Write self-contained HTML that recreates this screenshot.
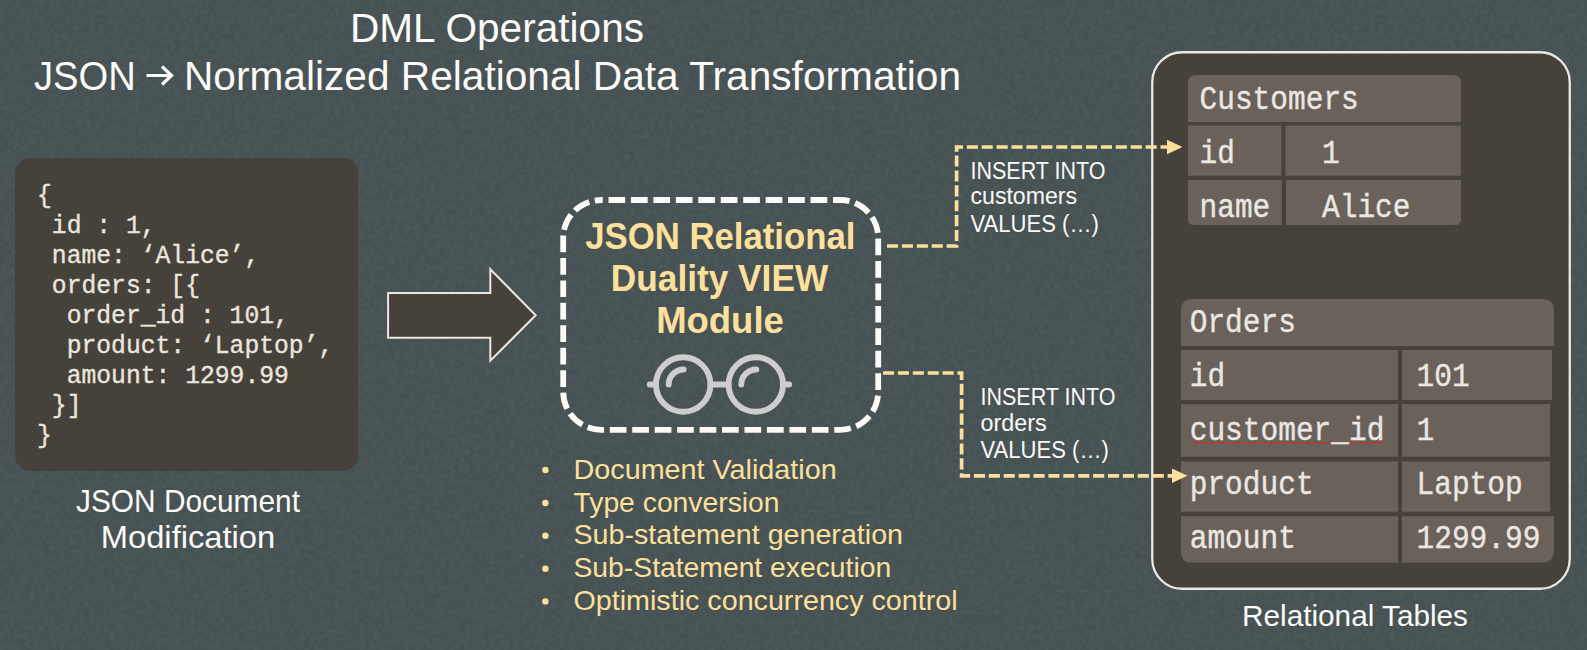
<!DOCTYPE html>
<html><head><meta charset="utf-8">
<style>
html,body{margin:0;padding:0;background:#465154;}
body{width:1587px;height:650px;overflow:hidden;}
svg{display:block;}
.s{font-family:"Liberation Sans",sans-serif;}
.m{font-family:"Liberation Mono",monospace;white-space:pre;}
</style></head><body>
<svg width="1587" height="650" viewBox="0 0 1587 650">
<defs>
<filter id="nz" x="0" y="0" width="100%" height="100%" color-interpolation-filters="sRGB">
<feTurbulence type="fractalNoise" baseFrequency="0.2" numOctaves="3" seed="7" result="t"/>
<feColorMatrix in="t" type="matrix" values="0 0 0 0 0.329  0 0 0 0 0.373  0 0 0 0 0.384  1.1 0 0 0 -0.4"/>
</filter>
</defs>
<rect x="0" y="0" width="1587" height="650" fill="#465154"/>
<rect x="0" y="0" width="1587" height="650" filter="url(#nz)"/>
<!-- Title -->
<text class="s" x="350" y="42" font-size="41" fill="#fbfaf6" textLength="294" lengthAdjust="spacingAndGlyphs">DML Operations</text>
<text class="s" x="34" y="90" font-size="41" fill="#fbfaf6" textLength="101.8" lengthAdjust="spacingAndGlyphs">JSON</text>
<text class="s" x="184" y="90" font-size="41" fill="#fbfaf6" textLength="777" lengthAdjust="spacingAndGlyphs">Normalized Relational Data Transformation</text>
<path d="M146.5,75.5 H171 M162,66.5 L171.5,75.5 L162,84.5" fill="none" stroke="#fbfaf6" stroke-width="3.2"/>
<rect x="15" y="158" width="343" height="313" rx="15" fill="#47413b"/>
<text class="m" transform="translate(37,202.6) scale(1,1.04)" x="0" y="0" font-size="24.7" fill="#ebe6dd" stroke="#ebe6dd" stroke-width="0.35">{</text>
<text class="m" transform="translate(37,232.6) scale(1,1.04)" x="0" y="0" font-size="24.7" fill="#ebe6dd" stroke="#ebe6dd" stroke-width="0.35"> id : 1,</text>
<text class="m" transform="translate(37,262.6) scale(1,1.04)" x="0" y="0" font-size="24.7" fill="#ebe6dd" stroke="#ebe6dd" stroke-width="0.35"> name: ‘Alice’,</text>
<text class="m" transform="translate(37,292.6) scale(1,1.04)" x="0" y="0" font-size="24.7" fill="#ebe6dd" stroke="#ebe6dd" stroke-width="0.35"> orders: [{</text>
<text class="m" transform="translate(37,322.6) scale(1,1.04)" x="0" y="0" font-size="24.7" fill="#ebe6dd" stroke="#ebe6dd" stroke-width="0.35">  order_id : 101,</text>
<text class="m" transform="translate(37,352.6) scale(1,1.04)" x="0" y="0" font-size="24.7" fill="#ebe6dd" stroke="#ebe6dd" stroke-width="0.35">  product: ‘Laptop’,</text>
<text class="m" transform="translate(37,382.6) scale(1,1.04)" x="0" y="0" font-size="24.7" fill="#ebe6dd" stroke="#ebe6dd" stroke-width="0.35">  amount: 1299.99</text>
<text class="m" transform="translate(37,412.6) scale(1,1.04)" x="0" y="0" font-size="24.7" fill="#ebe6dd" stroke="#ebe6dd" stroke-width="0.35"> }]</text>
<text class="m" transform="translate(37,442.6) scale(1,1.04)" x="0" y="0" font-size="24.7" fill="#ebe6dd" stroke="#ebe6dd" stroke-width="0.35">}</text>
<text class="s" x="188" y="512" font-size="30.5" fill="#fbfaf6" textLength="224" lengthAdjust="spacingAndGlyphs" text-anchor="middle">JSON Document</text>
<text class="s" x="188" y="547.5" font-size="30.5" fill="#fbfaf6" textLength="174.5" lengthAdjust="spacingAndGlyphs" text-anchor="middle">Modification</text>
<polygon points="388.1,293 490.3,293 490.3,269.3 535.7,315.3 490.3,360.7 490.3,337.8 388.1,337.8" fill="#47413b" stroke="#ebe7df" stroke-width="2"/>
<rect x="563.2" y="200" width="315" height="229.8" rx="38" fill="none" stroke="#fbfaf7" stroke-width="5.8" stroke-dasharray="16.7 5.75" stroke-dashoffset="-7.3"/>
<text class="s" x="720.3" y="248.9" font-size="36" fill="#fde09b" textLength="270.3" lengthAdjust="spacingAndGlyphs" text-anchor="middle" font-weight="bold">JSON Relational</text>
<text class="s" x="719.5" y="290.6" font-size="36" fill="#fde09b" textLength="217.3" lengthAdjust="spacingAndGlyphs" text-anchor="middle" font-weight="bold">Duality VIEW</text>
<text class="s" x="720" y="332.6" font-size="36.5" fill="#fde09b" textLength="127.7" lengthAdjust="spacingAndGlyphs" text-anchor="middle" font-weight="bold">Module</text>
<g fill="none" stroke="#cdcdcd" stroke-width="5.9" stroke-linecap="round">
<circle cx="683.2" cy="384.5" r="27.2"/>
<circle cx="755.8" cy="384.5" r="27.2"/>
<line x1="711" y1="384.5" x2="728" y2="384.5"/>
<line x1="649.8" y1="384.5" x2="656" y2="384.5"/>
<line x1="783" y1="384.5" x2="789.2" y2="384.5"/>
<path d="M668.7,384.5 A15,15 0 0 1 683.7,369.5"/>
<path d="M741.3,384.5 A15,15 0 0 1 756.3,369.5"/>
</g>
<circle cx="545.4" cy="470.0" r="3.2" fill="#fde09b"/>
<text class="s" x="573.5" y="478.6" font-size="28.5" fill="#fde09b" textLength="263.2" lengthAdjust="spacingAndGlyphs">Document Validation</text>
<circle cx="545.4" cy="503.0" r="3.2" fill="#fde09b"/>
<text class="s" x="573.5" y="511.6" font-size="28.5" fill="#fde09b" textLength="206.1" lengthAdjust="spacingAndGlyphs">Type conversion</text>
<circle cx="545.4" cy="535.6999999999999" r="3.2" fill="#fde09b"/>
<text class="s" x="573.5" y="544.3" font-size="28.5" fill="#fde09b" textLength="329.5" lengthAdjust="spacingAndGlyphs">Sub-statement generation</text>
<circle cx="545.4" cy="568.6999999999999" r="3.2" fill="#fde09b"/>
<text class="s" x="573.5" y="577.3" font-size="28.5" fill="#fde09b" textLength="317.7" lengthAdjust="spacingAndGlyphs">Sub-Statement execution</text>
<circle cx="545.4" cy="601.4" r="3.2" fill="#fde09b"/>
<text class="s" x="573.5" y="610" font-size="28.5" fill="#fde09b" textLength="384.1" lengthAdjust="spacingAndGlyphs">Optimistic concurrency control</text>
<text class="s" x="970.5" y="178.7" font-size="23" fill="#fbfaf6" textLength="135" lengthAdjust="spacingAndGlyphs">INSERT INTO</text>
<text class="s" x="970.5" y="204.4" font-size="23" fill="#fbfaf6" textLength="106.5" lengthAdjust="spacingAndGlyphs">customers</text>
<text class="s" x="970.5" y="232.1" font-size="23" fill="#fbfaf6" textLength="128.3" lengthAdjust="spacingAndGlyphs">VALUES (…)</text>
<text class="s" x="980.5" y="404.7" font-size="23" fill="#fbfaf6" textLength="135" lengthAdjust="spacingAndGlyphs">INSERT INTO</text>
<text class="s" x="980.5" y="431.2" font-size="23" fill="#fbfaf6" textLength="66.1" lengthAdjust="spacingAndGlyphs">orders</text>
<text class="s" x="980.5" y="457.8" font-size="23" fill="#fbfaf6" textLength="128.3" lengthAdjust="spacingAndGlyphs">VALUES (…)</text>
<rect x="1152.25" y="52.25" width="417.5" height="536.5" rx="30" fill="#47413b" stroke="#ebe8e2" stroke-width="2.3"/>
<g fill="#6a615b">
<path d="M1188,122 V83 Q1188,75 1196,75 H1453 Q1461,75 1461,83 V122 Z"/>
<rect x="1188" y="125.5" width="93.4" height="50.2"/>
<rect x="1285.4" y="125.5" width="175.5" height="50.2"/>
<path d="M1188,180 H1281.8 V225 H1194 Q1188,225 1188,219 Z"/>
<path d="M1286,180 H1461 V219 Q1461,225 1455,225 H1286 Z"/>
</g>
<text class="m" transform="translate(1199.5,109) scale(1,1.12)" x="0" y="0" font-size="29.5" fill="#ebe7e2" stroke="#ebe7e2" stroke-width="0.35">Customers</text>
<text class="m" transform="translate(1199.5,163) scale(1,1.12)" x="0" y="0" font-size="29.5" fill="#ebe7e2" stroke="#ebe7e2" stroke-width="0.35">id</text>
<text class="m" transform="translate(1322,163) scale(1,1.12)" x="0" y="0" font-size="29.5" fill="#ebe7e2" stroke="#ebe7e2" stroke-width="0.35">1</text>
<text class="m" transform="translate(1199.5,216.9) scale(1,1.12)" x="0" y="0" font-size="29.5" fill="#ebe7e2" stroke="#ebe7e2" stroke-width="0.35">name</text>
<text class="m" transform="translate(1322,216.9) scale(1,1.12)" x="0" y="0" font-size="29.5" fill="#ebe7e2" stroke="#ebe7e2" stroke-width="0.35">Alice</text>
<g fill="#6a615b">
<path d="M1181,346 V311 Q1181,299 1193,299 H1542 Q1554,299 1554,311 V346 Z"/>
<rect x="1181" y="350" width="217" height="50"/>
<rect x="1402" y="350" width="150" height="50"/>
<rect x="1181" y="404.2" width="217" height="52.6"/>
<rect x="1402" y="404.2" width="148" height="52.6"/>
<rect x="1181" y="461.5" width="217" height="50.2"/>
<rect x="1402" y="461.5" width="148" height="50.2"/>
<path d="M1181,516.3 H1398 V562.6 H1191 Q1181,562.6 1181,552.6 Z"/>
<path d="M1402,516.3 H1554 V550.6 Q1554,562.6 1542,562.6 H1402 Z"/>
</g>
<path d="M1190,442.2 L1191.5,443.2 L1193.0,442.2 L1194.5,443.2 L1196.0,442.2 L1197.5,443.2 L1199.0,442.2 L1200.5,443.2 L1202.0,442.2 L1203.5,443.2 L1205.0,442.2 L1206.5,443.2 L1208.0,442.2 L1209.5,443.2 L1211.0,442.2 L1212.5,443.2 L1214.0,442.2 L1215.5,443.2 L1217.0,442.2 L1218.5,443.2 L1220.0,442.2 L1221.5,443.2 L1223.0,442.2 L1224.5,443.2 L1226.0,442.2 L1227.5,443.2 L1229.0,442.2 L1230.5,443.2 L1232.0,442.2 L1233.5,443.2 L1235.0,442.2 L1236.5,443.2 L1238.0,442.2 L1239.5,443.2 L1241.0,442.2 L1242.5,443.2 L1244.0,442.2 L1245.5,443.2 L1247.0,442.2 L1248.5,443.2 L1250.0,442.2 L1251.5,443.2 L1253.0,442.2 L1254.5,443.2 L1256.0,442.2 L1257.5,443.2 L1259.0,442.2 L1260.5,443.2 L1262.0,442.2 L1263.5,443.2 L1265.0,442.2 L1266.5,443.2 L1268.0,442.2 L1269.5,443.2 L1271.0,442.2 L1272.5,443.2 L1274.0,442.2 L1275.5,443.2 L1277.0,442.2 L1278.5,443.2 L1280.0,442.2 L1281.5,443.2 L1283.0,442.2 L1284.5,443.2 L1286.0,442.2 L1287.5,443.2 L1289.0,442.2 L1290.5,443.2 L1292.0,442.2 L1293.5,443.2 L1295.0,442.2 L1296.5,443.2 L1298.0,442.2 L1299.5,443.2 L1301.0,442.2 L1302.5,443.2 L1304.0,442.2 L1305.5,443.2 L1307.0,442.2 L1308.5,443.2 L1310.0,442.2 L1311.5,443.2 L1313.0,442.2 L1314.5,443.2 L1316.0,442.2 L1317.5,443.2 L1319.0,442.2 L1320.5,443.2 L1322.0,442.2 L1323.5,443.2 L1325.0,442.2 L1326.5,443.2 L1328.0,442.2 L1329.5,443.2 L1331.0,442.2 L1332.5,443.2 L1334.0,442.2 L1335.5,443.2 L1337.0,442.2 L1338.5,443.2 L1340.0,442.2 L1341.5,443.2 L1343.0,442.2 L1344.5,443.2 L1346.0,442.2 L1347.5,443.2 L1349.0,442.2 L1350.5,443.2 L1352.0,442.2 L1353.5,443.2 L1355.0,442.2 L1356.5,443.2 L1358.0,442.2 L1359.5,443.2 L1361.0,442.2 L1362.5,443.2 L1364.0,442.2 L1365.5,443.2 L1367.0,442.2 L1368.5,443.2 L1370.0,442.2 L1371.5,443.2 L1373.0,442.2 L1374.5,443.2 L1376.0,442.2 L1377.5,443.2 L1379.0,442.2 L1380.5,443.2 L1382.0,442.2 L1383.5,443.2 L1385.0,442.2" fill="none" stroke="#e82020" stroke-width="0.8"/>
<text class="m" transform="translate(1189.7,332.4) scale(1,1.12)" x="0" y="0" font-size="29.5" fill="#ebe7e2" stroke="#ebe7e2" stroke-width="0.35">Orders</text>
<text class="m" transform="translate(1189.7,386.4) scale(1,1.12)" x="0" y="0" font-size="29.5" fill="#ebe7e2" stroke="#ebe7e2" stroke-width="0.35">id</text>
<text class="m" transform="translate(1416.5,386.4) scale(1,1.12)" x="0" y="0" font-size="29.5" fill="#ebe7e2" stroke="#ebe7e2" stroke-width="0.35">101</text>
<text class="m" transform="translate(1189.7,439.6) scale(1,1.12)" x="0" y="0" font-size="29.5" fill="#ebe7e2" stroke="#ebe7e2" stroke-width="0.35">customer_id</text>
<text class="m" transform="translate(1416.5,439.6) scale(1,1.12)" x="0" y="0" font-size="29.5" fill="#ebe7e2" stroke="#ebe7e2" stroke-width="0.35">1</text>
<text class="m" transform="translate(1189.7,493.5) scale(1,1.12)" x="0" y="0" font-size="29.5" fill="#ebe7e2" stroke="#ebe7e2" stroke-width="0.35">product</text>
<text class="m" transform="translate(1416.5,493.5) scale(1,1.12)" x="0" y="0" font-size="29.5" fill="#ebe7e2" stroke="#ebe7e2" stroke-width="0.35">Laptop</text>
<text class="m" transform="translate(1189.7,547.5) scale(1,1.12)" x="0" y="0" font-size="29.5" fill="#ebe7e2" stroke="#ebe7e2" stroke-width="0.35">amount</text>
<text class="m" transform="translate(1416.5,547.5) scale(1,1.12)" x="0" y="0" font-size="29.5" fill="#ebe7e2" stroke="#ebe7e2" stroke-width="0.35">1299.99</text>
<g fill="none" stroke="#fcdf9a" stroke-width="3.7" stroke-dasharray="11.1 3.8">
<polyline points="887,246 956.6,246 956.6,147 1168,147"/>
<polyline points="883,373 961.6,373 961.6,475.8 1173,475.8"/>
</g>
<g fill="#fcdf9a">
<polygon points="1167,139.8 1182.5,147 1167,154.3"/>
<polygon points="1172,468.5 1187.5,475.8 1172,483"/>
</g>
<text class="s" x="1242" y="625.7" font-size="30" fill="#fbfaf6" textLength="226" lengthAdjust="spacingAndGlyphs">Relational Tables</text>
</svg>
</body></html>
